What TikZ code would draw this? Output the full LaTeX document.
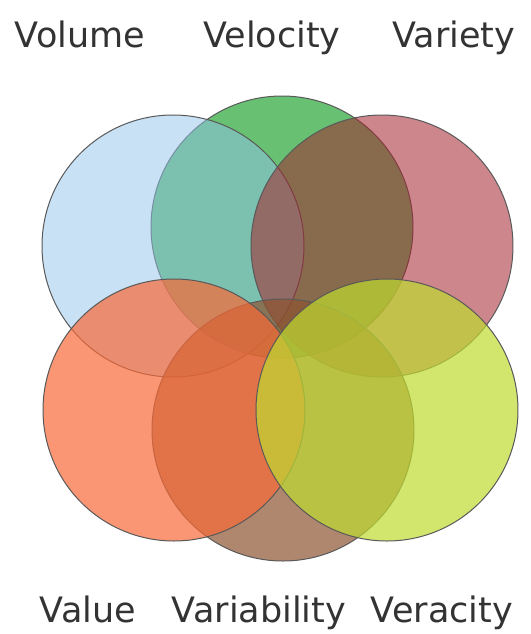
\documentclass[tikz,border=0pt]{standalone}
\usepackage{fontspec}
\setmainfont{DejaVu Sans}
\definecolor{volumeblue}{RGB}{145,195,235}
\definecolor{velocitygreen}{RGB}{40,165,55}
\definecolor{varietyrose}{RGB}{164,36,45}
\definecolor{valueorange}{RGB}{248,105,55}
\definecolor{variabilitybrown}{RGB}{141,84,48}
\definecolor{veracitylime}{RGB}{191,219,48}

\begin{document}
\begin{tikzpicture}[
  x=0.5pt,
  y=-0.5pt,
  ring/.style={
    circle,
    draw=black!65,
    line width=0.5pt,
    minimum size=131pt,
    inner sep=0pt,
    fill opacity=0.7
  },
  vlabel/.style={
    anchor=base,
    inner sep=0pt,
    text=black!80,
    font=\fontsize{17.5pt}{21pt}\selectfont
  }
]

\path[use as bounding box] (0,0) rectangle (531,634);

% circles, back to front
\node[ring, fill=velocitygreen] (velocity) at (282,227) {};
\node[ring, fill=volumeblue, fill opacity=0.5] (volume) at (173,246) {};
\node[ring, fill=varietyrose, fill opacity=0.55] (variety) at (382,246) {};
\node[ring, fill=variabilitybrown] (variability) at (283,430) {};
\node[ring, fill=valueorange] (value) at (174,410) {};
\node[ring, fill=veracitylime] (veracity) at (387,410) {};

% labels
\node[vlabel] (volumetext) at (80,47) {Volume};
\node[vlabel] (velocitytext) at (272,47) {Velocity};
\node[vlabel] (varietytext) at (454,47) {Variety};
\node[vlabel] (valuetext) at (88,622) {Value};
\node[vlabel] (variabilitytext) at (259,622) {Variability};
\node[vlabel] (veracitytext) at (442,622) {Veracity};

\end{tikzpicture}
\end{document}
